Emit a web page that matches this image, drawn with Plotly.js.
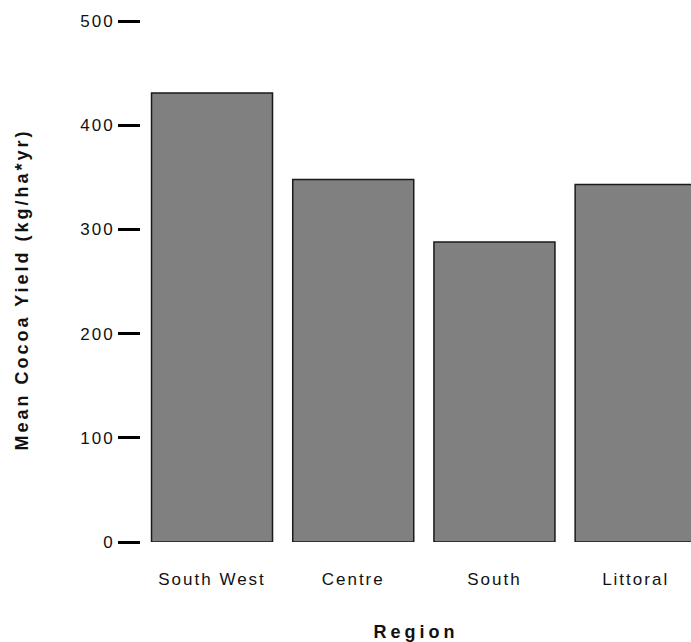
<!DOCTYPE html>
<html>
<head>
<meta charset="utf-8">
<script src="https://cdn.plot.ly/plotly-3.0.1.min.js"></script>
<style>
html,body{margin:0;padding:0;background:#fff;}
#chart{width:691px;height:642px;}
#chart .xtick text, #chart .ytick text{letter-spacing:2px;}
#chart .g-xtitle text{letter-spacing:4px;}
#chart .annotation text{letter-spacing:3px;}
</style>
</head>
<body>
<div id="chart"></div>
<script>
const regions = ["South West", "Centre", "South", "Littoral"];
const meanYield = [431, 348, 288, 343];
const yTickVals = [0, 100, 200, 300, 400, 500];
const xTitle = "Region";
const yTitle = "Mean Cocoa Yield (kg/ha*yr)";

const trace = {
  type: "bar",
  x: regions,
  y: meanYield,
  width: 0.857,
  marker: {color: "#808080", line: {color: "#1a1a1a", width: 1.5}},
  hoverinfo: "x+y"
};

const layout = {
  width: 691, height: 642,
  margin: {l: 141, r: 0, t: 21, b: 100, pad: 0},
  paper_bgcolor: "#ffffff", plot_bgcolor: "#ffffff",
  showlegend: false,
  font: {family: "Liberation Sans, Arial, sans-serif", color: "#111"},
  xaxis: {
    type: "category",
    range: [-0.503, 3.392],
    showgrid: false, zeroline: false, showline: false,
    ticks: "",
    ticklabelstandoff: 25,
    tickfont: {size: 17, color: "#111"},
    title: {text: "<b>" + xTitle + "</b>", font: {size: 18, color: "#111"}, standoff: 37},
    automargin: false,
    fixedrange: true
  },
  yaxis: {
    range: [0, 500],
    tickvals: yTickVals,
    showgrid: false, zeroline: false, showline: false,
    ticks: "outside", ticklen: 22, tickwidth: 3, tickcolor: "#000",
    ticklabelstandoff: 0,
    tickfont: {size: 17, color: "#111"},
    automargin: false,
    fixedrange: true
  },
  annotations: [{
    text: "<b>" + yTitle + "</b>",
    xref: "paper", yref: "paper",
    x: -141/550, y: (642 - 100 - 290) / 521,
    xshift: 22,
    xanchor: "center", yanchor: "middle",
    textangle: -90, showarrow: false,
    font: {size: 18, color: "#111", family: "Liberation Sans, Arial, sans-serif"}
  }]
};

Plotly.newPlot("chart", [trace], layout, {displayModeBar: false, staticPlot: true});
</script>
</body>
</html>
